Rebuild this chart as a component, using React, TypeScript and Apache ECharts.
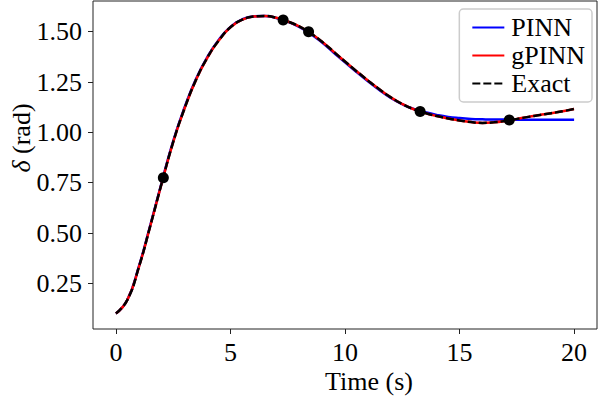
import React, { useEffect, useRef } from "react";
import * as echarts from "echarts";

const timeValues: number[] = [
  0, 0.5, 1, 1.5, 2, 2.5, 3, 3.5, 4, 4.5, 5, 5.5, 6, 6.5, 7, 7.5, 8, 8.5, 9, 9.5,
  10, 10.5, 11, 11.5, 12, 12.5, 13, 13.5, 14, 14.5, 15, 15.5, 16, 16.5, 17, 17.5,
  18, 18.5, 19, 19.5, 20,
];

const exactValues: number[] = [
  0.1, 0.168, 0.33, 0.535, 0.748, 0.952, 1.12, 1.262, 1.373, 1.458, 1.522, 1.559,
  1.575, 1.578, 1.569, 1.551, 1.526, 1.492, 1.45, 1.401, 1.352, 1.304, 1.258, 1.214,
  1.174, 1.141, 1.115, 1.096, 1.081, 1.069, 1.059, 1.051, 1.047, 1.05, 1.057, 1.067,
  1.077, 1.086, 1.095, 1.105, 1.116,
];

const gpinnValues: number[] = [
  0.1, 0.168, 0.33, 0.535, 0.748, 0.952, 1.12, 1.262, 1.373, 1.458, 1.522, 1.559,
  1.575, 1.578, 1.569, 1.551, 1.526, 1.492, 1.45, 1.401, 1.352, 1.304, 1.258, 1.214,
  1.174, 1.141, 1.115, 1.096, 1.081, 1.069, 1.059, 1.051, 1.047, 1.05, 1.057, 1.067,
  1.077, 1.086, 1.095, 1.105, 1.116,
];

const pinnValues: number[] = [
  0.1, 0.169, 0.333, 0.539, 0.752, 0.957, 1.125, 1.266, 1.376, 1.461, 1.524, 1.56,
  1.576, 1.578, 1.568, 1.55, 1.524, 1.489, 1.446, 1.397, 1.348, 1.3, 1.254, 1.21,
  1.171, 1.14, 1.116, 1.1, 1.087, 1.077, 1.071, 1.067, 1.065, 1.064, 1.064, 1.063,
  1.063, 1.063, 1.063, 1.063, 1.063,
];

const markerTimes: number[] = [2.07, 7.3, 8.41, 13.28, 17.17];
const markerValues: number[] = [0.775, 1.558, 1.5, 1.104, 1.062];

const xTicks: number[] = [0, 5, 10, 15, 20];
const yTicks: number[] = [0.25, 0.5, 0.75, 1.0, 1.25, 1.5];

const FONT = "'Liberation Serif', 'DejaVu Serif', serif";
const FS = 26;

export default function App() {
  const ref = useRef<HTMLDivElement>(null);

  useEffect(() => {
    if (!ref.current) return;
    const chart = echarts.init(ref.current, undefined, { renderer: "svg" });
    const pairs = (xs: number[], ys: number[]) => xs.map((x, i) => [x, ys[i]]);
    const axisColor = "#222";
    chart.setOption({
      animation: false,
      backgroundColor: "#ffffff",
      grid: {
        left: 93,
        top: 1,
        width: 504,
        height: 328,
        show: true,
        borderColor: axisColor,
        borderWidth: 1,
        backgroundColor: "transparent",
      },
      xAxis: {
        type: "value",
        min: -1,
        max: 21,
        splitLine: { show: false },
        axisLine: { show: false, onZero: false },
        axisTick: {
          show: true,
          length: 5,
          customValues: xTicks,
          lineStyle: { color: axisColor, width: 1 },
        },
        axisLabel: {
          customValues: xTicks,
          margin: 10,
          color: "#000",
          fontFamily: FONT,
          fontSize: FS,
        },
      },
      yAxis: {
        type: "value",
        min: 0.0235,
        max: 1.6525,
        splitLine: { show: false },
        axisLine: { show: false, onZero: false },
        axisTick: {
          show: true,
          length: 5,
          customValues: yTicks,
          lineStyle: { color: axisColor, width: 1 },
        },
        axisLabel: {
          customValues: yTicks,
          margin: 11,
          color: "#000",
          fontFamily: FONT,
          fontSize: FS,
          formatter: (v: number) => v.toFixed(2),
        },
      },
      legend: {
        data: ["PINN", "gPINN", "Exact"],
        orient: "vertical",
        right: 6,
        top: 9,
        padding: [5, 7, 5, 12],
        itemWidth: 32,
        itemHeight: 20,
        itemGap: 1,
        backgroundColor: "rgba(255,255,255,0.8)",
        borderColor: "#cccccc",
        borderWidth: 1.5,
        borderRadius: 4,
        itemStyle: { color: "transparent", borderColor: "transparent", borderWidth: 0, opacity: 0 },
        textStyle: {
          fontFamily: FONT,
          fontSize: FS,
          lineHeight: 27,
          color: "#000",
          padding: [0, 0, 0, 2],
        },
      },
      graphic: [
        {
          type: "text",
          x: 369,
          y: 381,
          style: {
            text: "Time (s)",
            fontFamily: FONT,
            fontSize: FS,
            fill: "#000",
            align: "center",
            verticalAlign: "middle",
          },
        },
        {
          type: "text",
          x: 21,
          y: 138,
          rotation: Math.PI / 2,
          style: {
            text: "{d|δ} (rad)",
            fontFamily: FONT,
            fontSize: FS,
            fill: "#000",
            align: "center",
            verticalAlign: "middle",
            rich: {
              d: { fontFamily: FONT, fontSize: FS, fontStyle: "italic", fill: "#000" },
            },
          },
        },
      ],
      series: [
        {
          name: "PINN",
          type: "line",
          data: pairs(timeValues, pinnValues),
          smooth: 0.5,
          showSymbol: false,
          symbol: "none",
          color: "#0000ff",
          lineStyle: { color: "#0000ff", width: 2.5 },
          z: 2,
        },
        {
          name: "gPINN",
          type: "line",
          data: pairs(timeValues, gpinnValues),
          smooth: 0.5,
          showSymbol: false,
          symbol: "none",
          color: "#ff0000",
          lineStyle: { color: "#ff0000", width: 2.5 },
          z: 3,
        },
        {
          name: "Exact",
          type: "line",
          data: pairs(timeValues, exactValues),
          smooth: 0.5,
          showSymbol: false,
          symbol: "none",
          color: "#000000",
          lineStyle: { color: "#000000", width: 2.5, type: [8, 3] },
          z: 4,
        },
        {
          name: "points",
          type: "scatter",
          data: pairs(markerTimes, markerValues),
          symbol: "circle",
          symbolSize: 11,
          itemStyle: { color: "#000000", opacity: 1 },
          z: 5,
        },
      ],
    });
    return () => chart.dispose();
  }, []);

  return <div ref={ref} style={{ width: 598, height: 397, position: "absolute", left: 0, top: 0 }} />;
}
